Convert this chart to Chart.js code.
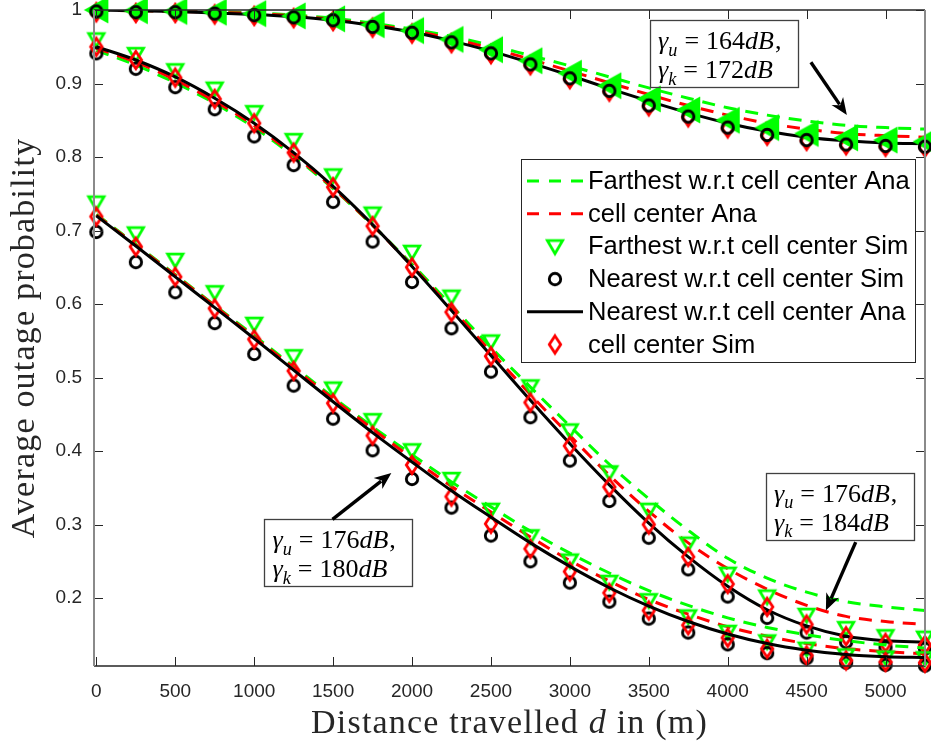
<!DOCTYPE html>
<html>
<head>
<meta charset="utf-8">
<title>Average outage probability vs distance</title>
<script src="https://cdn.jsdelivr.net/npm/chart.js@4.4.0/dist/chart.umd.min.js"></script>
<style>
  html, body { margin: 0; padding: 0; background: #fff; }
  #wrap { width: 931px; height: 742px; }
</style>
</head>
<body>
<div id="wrap"><canvas id="outageChart" width="931" height="742"></canvas></div>
<script>
// Distance travelled (m)
const distances = [0, 250, 500, 750, 1000, 1250, 1500, 1750, 2000, 2250, 2500,
  2750, 3000, 3250, 3500, 3750, 4000, 4250, 4500, 4750, 5000, 5250];

// gamma_u = 164 dB, gamma_k = 172 dB
const farAnaHigh  = [1.000, 0.999, 0.999, 0.998, 0.996, 0.993, 0.989, 0.982, 0.974, 0.964, 0.952, 0.938, 0.924, 0.909, 0.894, 0.880, 0.867, 0.857, 0.849, 0.843, 0.840, 0.838];
const cellAnaHigh = [1.000, 0.999, 0.998, 0.997, 0.995, 0.992, 0.987, 0.980, 0.972, 0.961, 0.948, 0.933, 0.917, 0.901, 0.885, 0.870, 0.857, 0.846, 0.838, 0.832, 0.829, 0.827];
const farSimHigh  = [1.000, 0.999, 0.998, 0.997, 0.995, 0.992, 0.988, 0.980, 0.972, 0.960, 0.946, 0.931, 0.914, 0.897, 0.879, 0.864, 0.850, 0.840, 0.832, 0.826, 0.823, 0.821];
const nearSimHigh = [0.998, 0.997, 0.997, 0.995, 0.993, 0.990, 0.986, 0.977, 0.969, 0.956, 0.941, 0.926, 0.907, 0.890, 0.870, 0.855, 0.840, 0.830, 0.823, 0.817, 0.815, 0.814];
const nearAnaHigh = [1.000, 0.999, 0.998, 0.996, 0.994, 0.991, 0.986, 0.979, 0.970, 0.958, 0.944, 0.928, 0.911, 0.893, 0.876, 0.860, 0.846, 0.835, 0.827, 0.822, 0.819, 0.818];
const cellSimHigh = [0.997, 0.996, 0.996, 0.994, 0.992, 0.989, 0.985, 0.976, 0.968, 0.955, 0.940, 0.925, 0.906, 0.889, 0.869, 0.854, 0.839, 0.829, 0.822, 0.816, 0.814, 0.813];

// gamma_u = 176 dB, gamma_k = 184 dB
const farAnaMid  = [0.945, 0.925, 0.901, 0.873, 0.840, 0.801, 0.757, 0.707, 0.654, 0.598, 0.541, 0.487, 0.434, 0.382, 0.335, 0.292, 0.254, 0.227, 0.208, 0.195, 0.188, 0.183];
const cellAnaMid = [0.948, 0.929, 0.905, 0.876, 0.843, 0.803, 0.758, 0.707, 0.652, 0.594, 0.535, 0.477, 0.421, 0.367, 0.318, 0.275, 0.240, 0.212, 0.190, 0.175, 0.168, 0.164];
const farSimMid  = [0.960, 0.940, 0.918, 0.893, 0.861, 0.823, 0.775, 0.723, 0.671, 0.610, 0.549, 0.488, 0.428, 0.371, 0.320, 0.274, 0.233, 0.202, 0.177, 0.159, 0.148, 0.146];
const nearSimMid = [0.941, 0.920, 0.895, 0.865, 0.828, 0.789, 0.739, 0.685, 0.630, 0.567, 0.508, 0.446, 0.387, 0.332, 0.282, 0.239, 0.202, 0.173, 0.153, 0.140, 0.133, 0.131];
const nearAnaMid = [0.950, 0.932, 0.909, 0.880, 0.846, 0.806, 0.760, 0.708, 0.651, 0.591, 0.530, 0.469, 0.410, 0.354, 0.302, 0.256, 0.216, 0.184, 0.162, 0.148, 0.142, 0.140];
const cellSimMid = [0.950, 0.932, 0.908, 0.879, 0.846, 0.806, 0.759, 0.706, 0.650, 0.589, 0.529, 0.466, 0.407, 0.351, 0.300, 0.256, 0.219, 0.188, 0.164, 0.148, 0.139, 0.136];

// gamma_u = 176 dB, gamma_k = 180 dB
const farAnaLow  = [0.722, 0.681, 0.640, 0.598, 0.557, 0.515, 0.473, 0.433, 0.395, 0.358, 0.324, 0.291, 0.261, 0.234, 0.210, 0.190, 0.173, 0.160, 0.150, 0.142, 0.136, 0.132];
const cellAnaLow = [0.721, 0.680, 0.639, 0.597, 0.555, 0.513, 0.471, 0.430, 0.390, 0.352, 0.317, 0.283, 0.251, 0.223, 0.198, 0.178, 0.161, 0.148, 0.138, 0.131, 0.127, 0.124];
const farSimLow  = [0.738, 0.696, 0.660, 0.616, 0.573, 0.529, 0.485, 0.442, 0.401, 0.362, 0.320, 0.284, 0.251, 0.222, 0.197, 0.175, 0.154, 0.141, 0.131, 0.122, 0.119, 0.118];
const nearSimLow = [0.698, 0.657, 0.616, 0.574, 0.532, 0.489, 0.444, 0.401, 0.362, 0.323, 0.285, 0.250, 0.221, 0.195, 0.172, 0.153, 0.137, 0.125, 0.118, 0.112, 0.109, 0.108];
const nearAnaLow = [0.720, 0.679, 0.637, 0.595, 0.553, 0.510, 0.467, 0.425, 0.385, 0.346, 0.310, 0.275, 0.243, 0.214, 0.189, 0.168, 0.151, 0.138, 0.129, 0.123, 0.120, 0.119];
const cellSimLow = [0.719, 0.678, 0.637, 0.594, 0.552, 0.509, 0.465, 0.421, 0.381, 0.338, 0.301, 0.267, 0.236, 0.207, 0.183, 0.163, 0.146, 0.131, 0.122, 0.115, 0.113, 0.112];

const xTicks = [0, 500, 1000, 1500, 2000, 2500, 3000, 3500, 4000, 4500, 5000];
const yTicks = [0.2, 0.3, 0.4, 0.5, 0.6, 0.7, 0.8, 0.9, 1];

const legendLabels = [
  'Farthest w.r.t cell center Ana',
  'cell center Ana',
  'Farthest w.r.t cell center Sim',
  'Nearest w.r.t cell center Sim',
  'Nearest w.r.t cell center Ana',
  'cell center Sim'
];

// text boxes: [gamma_u, gamma_k], box corner (x, y) and arrow tail/head in data units
const noteValues = [['164', '172'], ['176', '180'], ['176', '184']];
const noteBoxes = [[3508, 0.986], [1065, 0.307], [4242, 0.370]];
const noteArrows = [
  [4527, 0.929, 4755, 0.857],
  [1496, 0.307, 1869, 0.370],
  [4811, 0.276, 4622, 0.183]
];

const GREEN = '#00ff00';
const RED = '#ff0000';
const BLACK = '#000000';
const DASH = [13, 9];

// small canvases used as point styles
function markerCanvas(w, h, paint) {
  const c = document.createElement('canvas');
  c.width = w;
  c.height = h;
  const g = c.getContext('2d');
  g.translate(w / 2, h / 2);
  paint(g);
  return c;
}

const triDown = markerCanvas(26, 24, g => {
  g.beginPath();
  g.moveTo(-7.6, -5.8);
  g.lineTo(7.6, -5.8);
  g.lineTo(0, 7.2);
  g.closePath();
  g.lineWidth = 2.8;
  g.strokeStyle = GREEN;
  g.stroke();
});

const triLeft = markerCanvas(30, 30, g => {
  g.beginPath();
  g.moveTo(-12.5, 0);
  g.lineTo(12, -13.5);
  g.lineTo(12, 13.5);
  g.closePath();
  g.fillStyle = GREEN;
  g.fill();
});

const ring = markerCanvas(18, 18, g => {
  g.beginPath();
  g.arc(0, 0, 5.7, 0, Math.PI * 2);
  g.lineWidth = 2.9;
  g.strokeStyle = BLACK;
  g.stroke();
});

const diamond = markerCanvas(20, 26, g => {
  g.beginPath();
  g.moveTo(0, -8.6);
  g.lineTo(5.7, 0);
  g.lineTo(0, 8.6);
  g.lineTo(-5.7, 0);
  g.closePath();
  g.lineWidth = 2.8;
  g.strokeStyle = RED;
  g.stroke();
});

const pts = vals => distances.map((d, i) => ({ x: d, y: vals[i] }));

// higher z is painted later (on top)
function anaLine(vals, color, dash, z) {
  return {
    data: pts(vals),
    borderColor: color,
    borderWidth: 3,
    borderDash: dash,
    pointRadius: 0,
    pointHoverRadius: 0,
    fill: false,
    cubicInterpolationMode: 'monotone',
    order: 100 - z
  };
}

function simMarks(vals, marker, z) {
  return {
    data: pts(vals),
    showLine: false,
    pointStyle: marker,
    pointRadius: 6,
    pointHoverRadius: 6,
    pointBorderWidth: 0,
    clip: false,
    order: 100 - z
  };
}

const datasets = [
  anaLine(farAnaHigh, GREEN, DASH, 1),
  anaLine(cellAnaHigh, RED, DASH, 2),
  anaLine(nearAnaHigh, BLACK, [], 3),
  simMarks(cellSimHigh, diamond, 4),
  simMarks(farSimHigh, triLeft, 5),
  simMarks(nearSimHigh, ring, 6),

  anaLine(farAnaMid, GREEN, DASH, 7),
  anaLine(cellAnaMid, RED, DASH, 8),
  simMarks(farSimMid, triDown, 9),
  simMarks(nearSimMid, ring, 10),
  anaLine(nearAnaMid, BLACK, [], 11),
  simMarks(cellSimMid, diamond, 12),

  anaLine(farAnaLow, GREEN, DASH, 13),
  anaLine(cellAnaLow, RED, DASH, 14),
  simMarks(farSimLow, triDown, 15),
  simMarks(nearSimLow, ring, 16),
  simMarks(cellSimLow, diamond, 17),
  anaLine(nearAnaLow, BLACK, [], 18)
];

// box outline, inward ticks, legend, text boxes and axis titles
const decorations = {
  id: 'decorations',
  afterDatasetsDraw(chart) {
    const ctx = chart.ctx;
    const a = chart.chartArea;
    const xs = chart.scales.x;
    const ys = chart.scales.y;

    ctx.save();
    // inward tick marks on all four sides
    ctx.strokeStyle = '#262626';
    ctx.lineWidth = 1;
    ctx.beginPath();
    xTicks.forEach(v => {
      const px = Math.round(xs.getPixelForValue(v)) + 0.5;
      ctx.moveTo(px, a.bottom); ctx.lineTo(px, a.bottom - 9);
      ctx.moveTo(px, a.top); ctx.lineTo(px, a.top + 9);
    });
    yTicks.forEach(v => {
      const py = Math.round(ys.getPixelForValue(v)) + 0.5;
      ctx.moveTo(a.left, py); ctx.lineTo(a.left + 9, py);
      ctx.moveTo(a.right, py); ctx.lineTo(a.right - 9, py);
    });
    ctx.stroke();

    // frame
    ctx.strokeStyle = '#262626';
    ctx.lineWidth = 1.3;
    ctx.beginPath();
    ctx.moveTo(a.left, a.top); ctx.lineTo(a.right, a.top);
    ctx.moveTo(a.left, a.bottom); ctx.lineTo(a.right, a.bottom);
    ctx.stroke();
    ctx.strokeStyle = '#8a8a8a';
    ctx.lineWidth = 2;
    ctx.beginPath();
    ctx.moveTo(a.left, a.top); ctx.lineTo(a.left, a.bottom);
    ctx.moveTo(a.right, a.top); ctx.lineTo(a.right, a.bottom);
    ctx.stroke();

    drawLegend(ctx, a);
    drawNotes(ctx, xs, ys);
    drawTitles(ctx, a);
    ctx.restore();
  }
};

function drawLegend(ctx, a) {
  const w = 394, h = 203;
  const x0 = a.right - 10 - w;
  const y0 = a.top + 149;
  ctx.fillStyle = '#ffffff';
  ctx.fillRect(x0, y0, w, h);
  ctx.strokeStyle = '#262626';
  ctx.lineWidth = 1;
  ctx.strokeRect(x0 + 0.5, y0 + 0.5, w, h);

  const samples = [
    { line: GREEN, dash: [12, 10] },
    { line: RED, dash: [12, 10] },
    { mark: triDown },
    { mark: ring },
    { line: BLACK, dash: [] },
    { mark: diamond }
  ];
  ctx.font = '25.5px "Liberation Sans", Arial, sans-serif';
  ctx.textBaseline = 'middle';
  ctx.textAlign = 'left';
  legendLabels.forEach((label, i) => {
    const cy = y0 + 22 + i * 32.7;
    const s = samples[i];
    if (s.line) {
      ctx.strokeStyle = s.line;
      ctx.lineWidth = 3;
      ctx.setLineDash(s.dash);
      ctx.beginPath();
      ctx.moveTo(x0 + 6, cy);
      ctx.lineTo(x0 + 62, cy);
      ctx.stroke();
      ctx.setLineDash([]);
    } else {
      ctx.drawImage(s.mark, x0 + 34 - s.mark.width / 2, cy - s.mark.height / 2);
    }
    ctx.fillStyle = '#000';
    ctx.fillText(label, x0 + 67, cy + 1);
  });
}

function drawMath(ctx, x, y, parts, size) {
  let cx = x;
  parts.forEach(p => {
    const fs = p.sub ? size * 0.7 : size;
    ctx.font = (p.it ? 'italic ' : '') + fs + 'px "Liberation Serif", "DejaVu Serif", serif';
    ctx.fillText(p.t, cx, y + (p.sub ? size * 0.24 : 0));
    cx += ctx.measureText(p.t).width + (p.after || 0);
  });
}

function drawNotes(ctx, xs, ys) {
  ctx.textAlign = 'left';
  ctx.textBaseline = 'alphabetic';
  noteValues.forEach((vals, i) => {
    const bx = xs.getPixelForValue(noteBoxes[i][0]);
    const by = ys.getPixelForValue(noteBoxes[i][1]);
    ctx.strokeStyle = '#404040';
    ctx.lineWidth = 1.3;
    ctx.strokeRect(Math.round(bx) + 0.5, Math.round(by) + 0.5, 148, 67);
    ctx.fillStyle = '#000';
    const sub = ['u', 'k'];
    vals.forEach((v, j) => {
      drawMath(ctx, bx + 8, by + 29 + j * 29, [
        { t: '\u03b3', it: true },
        { t: sub[j], it: true, sub: true, after: 7 },
        { t: '=', after: 7 },
        { t: v },
        { t: 'dB', it: true, after: 1 },
        { t: j === 0 ? ',' : '' }
      ], 26);
    });

    // arrow
    const [x1, y1, x2, y2] = noteArrows[i];
    const p1 = { x: xs.getPixelForValue(x1), y: ys.getPixelForValue(y1) };
    const p2 = { x: xs.getPixelForValue(x2), y: ys.getPixelForValue(y2) };
    const ang = Math.atan2(p2.y - p1.y, p2.x - p1.x);
    const len = 17, half = 7;
    const bxh = p2.x - Math.cos(ang) * len, byh = p2.y - Math.sin(ang) * len;
    ctx.strokeStyle = '#000';
    ctx.lineWidth = 3.4;
    ctx.beginPath();
    ctx.moveTo(p1.x, p1.y);
    ctx.lineTo(bxh + Math.cos(ang) * 4, byh + Math.sin(ang) * 4);
    ctx.stroke();
    ctx.fillStyle = '#000';
    ctx.beginPath();
    ctx.moveTo(p2.x, p2.y);
    ctx.lineTo(bxh - Math.sin(ang) * half, byh + Math.cos(ang) * half);
    ctx.lineTo(bxh + Math.cos(ang) * 5, byh + Math.sin(ang) * 5);
    ctx.lineTo(bxh + Math.sin(ang) * half, byh - Math.cos(ang) * half);
    ctx.closePath();
    ctx.fill();
  });
}

function drawTitles(ctx, a) {
  ctx.fillStyle = '#262626';
  ctx.textBaseline = 'alphabetic';
  ctx.letterSpacing = '1.2px';

  // x title with italic d
  const size = 34;
  const serif = size + 'px "Liberation Serif", "DejaVu Serif", serif';
  const parts = [
    { t: 'Distance travelled ', it: false },
    { t: 'd', it: true },
    { t: ' in (m)', it: false }
  ];
  let total = 0;
  parts.forEach(p => {
    ctx.font = (p.it ? 'italic ' : '') + serif;
    p.w = ctx.measureText(p.t).width;
    total += p.w;
  });
  let cx = (a.left + a.right) / 2 - total / 2;
  ctx.textAlign = 'left';
  parts.forEach(p => {
    ctx.font = (p.it ? 'italic ' : '') + serif;
    ctx.fillText(p.t, cx, 733);
    cx += p.w;
  });

  // y title
  ctx.save();
  ctx.translate(34, (a.top + a.bottom) / 2);
  ctx.rotate(-Math.PI / 2);
  ctx.font = serif;
  ctx.textAlign = 'center';
  ctx.fillText('Average outage probability', 0, 0);
  ctx.restore();
  ctx.letterSpacing = '0px';
}

new Chart(document.getElementById('outageChart'), {
  type: 'line',
  data: { datasets },
  options: {
    responsive: false,
    devicePixelRatio: 1,
    animation: false,
    events: [],
    layout: { padding: { top: 10, right: 4, left: 0, bottom: 0 } },
    plugins: {
      legend: { display: false },
      tooltip: { enabled: false }
    },
    scales: {
      x: {
        type: 'linear',
        min: -15,
        max: 5250,
        afterBuildTicks: s => { s.ticks = xTicks.map(v => ({ value: v })); },
        afterFit: s => { s.height = 76; s.paddingLeft = 0; s.paddingRight = 0; },
        grid: { display: false, drawTicks: false },
        border: { display: false },
        ticks: {
          padding: 14,
          maxRotation: 0,
          autoSkip: false,
          color: '#262626',
          font: { family: '"Liberation Sans", Arial, sans-serif', size: 19 },
          callback: v => String(v)
        }
      },
      y: {
        type: 'linear',
        min: 0.1075,
        max: 1,
        afterBuildTicks: s => { s.ticks = yTicks.map(v => ({ value: v })); },
        afterFit: s => { s.width = 94; s.paddingTop = 0; s.paddingBottom = 0; },
        grid: { display: false, drawTicks: false },
        border: { display: false },
        ticks: {
          padding: 12,
          autoSkip: false,
          color: '#262626',
          font: { family: '"Liberation Sans", Arial, sans-serif', size: 19 },
          callback: v => (v === 1 ? '1' : v.toFixed(1))
        }
      }
    }
  },
  plugins: [decorations]
});
</script>
</body>
</html>
